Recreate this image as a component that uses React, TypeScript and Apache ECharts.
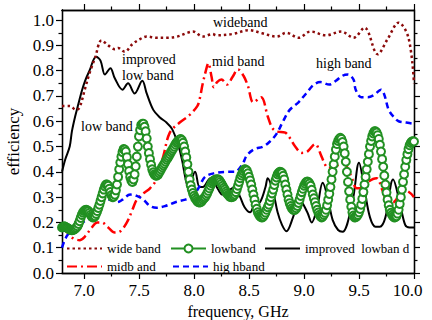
import React, { useEffect, useRef } from 'react';
import * as echarts from 'echarts';

// Frequency axis (GHz) and efficiency axis ranges
const FREQ_MIN = 6.8;
const FREQ_MAX = 10.0;
const EFF_MIN = 0;
const EFF_MAX = 1.04;

const freqMajorTicks = [7.0, 7.5, 8.0, 8.5, 9.0, 9.5, 10.0];
const freqMinorTicks = [7.25, 7.75, 8.25, 8.75, 9.25, 9.75];
const effMajorTicks = [0, 0.1, 0.2, 0.3, 0.4, 0.5, 0.6, 0.7, 0.8, 0.9, 1.0];
const effMinorTicks = [0.05, 0.15, 0.25, 0.35, 0.45, 0.55, 0.65, 0.75, 0.85, 0.95];

// wide band antenna: [frequency GHz, efficiency]
const wideBand = [
  [6.8, 0.66], [6.87, 0.66], [6.93, 0.645], [6.96, 0.655], [7.01, 0.73], [7.05, 0.79],
  [7.1, 0.85], [7.16, 0.92], [7.22, 0.9], [7.28, 0.885], [7.31, 0.89], [7.37, 0.875],
  [7.44, 0.905], [7.51, 0.925], [7.57, 0.935], [7.66, 0.93], [7.75, 0.93], [7.85, 0.935],
  [7.94, 0.95], [7.99, 0.955], [8.08, 0.935], [8.17, 0.945], [8.2, 0.94], [8.35, 0.945],
  [8.5, 0.96], [8.62, 0.948], [8.75, 0.935], [8.84, 0.95], [8.95, 0.93], [9.06, 0.955],
  [9.2, 0.94], [9.34, 0.955], [9.45, 0.93], [9.55, 0.97], [9.67, 0.865], [9.76, 0.925],
  [9.86, 0.99], [9.95, 0.93], [10.0, 0.75],
];

// low band antenna, sampled every 10 MHz from 6.80 GHz (one row = 0.1 GHz)
const LOWBAND_START = 6.8;
const LOWBAND_STEP = 0.01;
const lowbandEff = [
  0.18, 0.183, 0.185, 0.183, 0.18, 0.178, 0.175, 0.172, 0.17, 0.169, // 6.8
  0.17, 0.172, 0.175, 0.179, 0.185, 0.194, 0.205, 0.218, 0.23, 0.239, // 6.9
  0.245, 0.249, 0.25, 0.248, 0.245, 0.238, 0.23, 0.224, 0.22, 0.221, // 7.0
  0.225, 0.234, 0.245, 0.257, 0.27, 0.285, 0.3, 0.315, 0.33, 0.342, // 7.1
  0.35, 0.35, 0.345, 0.333, 0.32, 0.308, 0.3, 0.302, 0.31, 0.327, // 7.2
  0.35, 0.38, 0.41, 0.437, 0.46, 0.478, 0.49, 0.488, 0.48, 0.458, // 7.3
  0.43, 0.403, 0.38, 0.366, 0.36, 0.37, 0.39, 0.422, 0.46, 0.5, // 7.4
  0.54, 0.565, 0.585, 0.59, 0.59, 0.578, 0.56, 0.532, 0.5, 0.474, // 7.5
  0.45, 0.428, 0.41, 0.398, 0.39, 0.386, 0.385, 0.388, 0.395, 0.402, // 7.6
  0.41, 0.418, 0.425, 0.432, 0.44, 0.448, 0.455, 0.462, 0.47, 0.478, // 7.7
  0.485, 0.492, 0.5, 0.508, 0.515, 0.52, 0.525, 0.528, 0.53, 0.525, // 7.8
  0.515, 0.5, 0.48, 0.457, 0.43, 0.4, 0.37, 0.347, 0.33, 0.316, // 7.9
  0.305, 0.297, 0.29, 0.284, 0.28, 0.279, 0.28, 0.284, 0.29, 0.295, // 8.0
  0.3, 0.307, 0.315, 0.325, 0.335, 0.345, 0.355, 0.361, 0.365, 0.368, // 8.1
  0.37, 0.371, 0.37, 0.366, 0.36, 0.353, 0.345, 0.337, 0.33, 0.322, // 8.2
  0.315, 0.309, 0.305, 0.301, 0.3, 0.301, 0.305, 0.311, 0.32, 0.332, // 8.3
  0.345, 0.36, 0.375, 0.386, 0.395, 0.403, 0.41, 0.409, 0.405, 0.394, // 8.4
  0.38, 0.366, 0.35, 0.33, 0.31, 0.29, 0.27, 0.254, 0.24, 0.231, // 8.5
  0.225, 0.221, 0.22, 0.223, 0.23, 0.239, 0.25, 0.26, 0.27, 0.285, // 8.6
  0.3, 0.315, 0.33, 0.348, 0.365, 0.378, 0.39, 0.396, 0.4, 0.399, // 8.7
  0.395, 0.384, 0.37, 0.35, 0.33, 0.31, 0.29, 0.276, 0.265, 0.256, // 8.8
  0.25, 0.249, 0.25, 0.256, 0.265, 0.277, 0.29, 0.305, 0.32, 0.333, // 8.9
  0.345, 0.353, 0.36, 0.362, 0.36, 0.354, 0.345, 0.329, 0.31, 0.295, // 9.0
  0.28, 0.265, 0.25, 0.239, 0.23, 0.224, 0.22, 0.223, 0.23, 0.238, // 9.1
  0.25, 0.268, 0.29, 0.313, 0.34, 0.37, 0.4, 0.43, 0.46, 0.488, // 9.2
  0.51, 0.522, 0.53, 0.535, 0.53, 0.518, 0.5, 0.473, 0.44, 0.4, // 9.3
  0.36, 0.323, 0.29, 0.262, 0.24, 0.227, 0.22, 0.221, 0.225, 0.23, // 9.4
  0.24, 0.253, 0.27, 0.293, 0.32, 0.35, 0.38, 0.41, 0.44, 0.47, // 9.5
  0.5, 0.522, 0.54, 0.552, 0.56, 0.56, 0.555, 0.545, 0.53, 0.507, // 9.6
  0.48, 0.45, 0.42, 0.385, 0.35, 0.318, 0.29, 0.268, 0.25, 0.238, // 9.7
  0.23, 0.224, 0.22, 0.221, 0.225, 0.235, 0.25, 0.273, 0.3, 0.33, // 9.8
  0.36, 0.39, 0.42, 0.447, 0.47, 0.49, 0.505, 0.514, 0.52, 0.521, // 9.9
  0.52, // 10.0
];

// improved low band antenna
const improvedLowband = [
  [6.8, 0.4], [6.83, 0.45], [6.87, 0.5], [6.89, 0.56], [6.92, 0.62], [6.95, 0.67],
  [6.98, 0.72], [7.01, 0.76], [7.05, 0.8], [7.11, 0.855], [7.15, 0.84], [7.19, 0.785],
  [7.24, 0.81], [7.28, 0.77], [7.35, 0.725], [7.4, 0.75], [7.46, 0.71], [7.53, 0.76],
  [7.57, 0.71], [7.63, 0.645], [7.69, 0.615], [7.75, 0.595], [7.8, 0.57], [7.85, 0.515],
  [7.89, 0.45], [7.92, 0.38], [7.95, 0.335], [8.01, 0.4], [8.05, 0.34], [8.08, 0.34],
  [8.15, 0.375], [8.17, 0.37], [8.22, 0.33], [8.26, 0.31], [8.33, 0.33], [8.37, 0.34],
  [8.42, 0.3], [8.46, 0.26], [8.51, 0.24], [8.55, 0.27], [8.6, 0.28], [8.65, 0.34],
  [8.67, 0.375], [8.72, 0.32], [8.76, 0.24], [8.8, 0.19], [8.84, 0.165], [8.9, 0.22],
  [8.96, 0.29], [9.03, 0.24], [9.07, 0.2], [9.12, 0.26], [9.17, 0.357], [9.22, 0.29],
  [9.26, 0.21], [9.31, 0.17], [9.35, 0.163], [9.44, 0.28], [9.5, 0.436], [9.55, 0.33],
  [9.6, 0.22], [9.65, 0.183], [9.69, 0.183], [9.74, 0.22], [9.81, 0.37], [9.87, 0.28],
  [9.92, 0.19], [9.96, 0.18], [10.0, 0.18],
];

// mid band antenna
const midBand = [
  [6.8, 0.18], [6.85, 0.16], [6.89, 0.14], [6.96, 0.13], [7.01, 0.145], [7.07, 0.18],
  [7.12, 0.2], [7.16, 0.2], [7.22, 0.18], [7.28, 0.16], [7.33, 0.165], [7.39, 0.2],
  [7.44, 0.25], [7.48, 0.29], [7.54, 0.315], [7.6, 0.335], [7.66, 0.37], [7.69, 0.42],
  [7.72, 0.46], [7.78, 0.555], [7.87, 0.595], [7.96, 0.625], [8.03, 0.66], [8.05, 0.685],
  [8.08, 0.75], [8.12, 0.82], [8.13, 0.83], [8.16, 0.775], [8.18, 0.735], [8.21, 0.755],
  [8.25, 0.765], [8.3, 0.745], [8.35, 0.775], [8.4, 0.805], [8.45, 0.78], [8.49, 0.74],
  [8.54, 0.675], [8.61, 0.695], [8.67, 0.62], [8.71, 0.575], [8.75, 0.56], [8.83, 0.555],
  [8.87, 0.535], [8.92, 0.5], [8.98, 0.475], [9.03, 0.48], [9.1, 0.51], [9.16, 0.46],
  [9.19, 0.43], [9.22, 0.415], [9.28, 0.42], [9.35, 0.435], [9.39, 0.42], [9.44, 0.37],
  [9.48, 0.335], [9.54, 0.335], [9.58, 0.36], [9.66, 0.375], [9.71, 0.33], [9.75, 0.29],
  [9.81, 0.28], [9.87, 0.31], [9.93, 0.325], [10.0, 0.3],
];

// high band antenna
const highBand = [
  [6.8, 0.1], [6.85, 0.15], [6.92, 0.17], [6.99, 0.2], [7.07, 0.22], [7.13, 0.26],
  [7.19, 0.29], [7.24, 0.29], [7.3, 0.28], [7.35, 0.29], [7.42, 0.31], [7.48, 0.305],
  [7.54, 0.29], [7.6, 0.265], [7.66, 0.258], [7.74, 0.265], [7.83, 0.28], [7.92, 0.29],
  [7.98, 0.3], [8.04, 0.335], [8.1, 0.38], [8.19, 0.395], [8.3, 0.4], [8.37, 0.4],
  [8.44, 0.43], [8.48, 0.465], [8.55, 0.49], [8.63, 0.5], [8.69, 0.52], [8.75, 0.55],
  [8.81, 0.6], [8.87, 0.645], [8.95, 0.675], [9.02, 0.71], [9.09, 0.745], [9.15, 0.755],
  [9.23, 0.745], [9.29, 0.76], [9.35, 0.78], [9.4, 0.785], [9.45, 0.765], [9.47, 0.725],
  [9.52, 0.695], [9.58, 0.695], [9.64, 0.705], [9.7, 0.725], [9.73, 0.705], [9.77, 0.645],
  [9.82, 0.615], [9.86, 0.6], [9.93, 0.595], [10.0, 0.59],
];

const SERIF = '"Liberation Serif", "Times New Roman", serif';
const DARK_RED = '#8b0a0a';
const GREEN = '#229022';

// in-plot annotations (pixel layout)
const notes = [
  { text: 'wideband', x: 213, y: 22 },
  { text: 'improved', x: 122, y: 59 },
  { text: 'low band', x: 122, y: 75 },
  { text: 'low band', x: 81, y: 126 },
  { text: 'mid band', x: 212, y: 61 },
  { text: 'high band', x: 316, y: 63 },
];

// legend entries and their placement inside the plot
const legendEntries = [
  { name: 'wide band', left: 66, top: 242, marker: false },
  { name: 'lowband', left: 170, top: 242, marker: true },
  { name: 'improved  lowban d', left: 264, top: 242, marker: false },
  { name: 'midb and', left: 66, top: 260, marker: false },
  { name: 'hig hband', left: 172, top: 260, marker: false },
];

function tickAxis(kind: 'x' | 'y', position: string, ticks: number[], len: number) {
  const isX = kind === 'x';
  return {
    type: 'value',
    position,
    min: isX ? FREQ_MIN : EFF_MIN,
    max: isX ? FREQ_MAX : EFF_MAX,
    splitLine: { show: false },
    axisLine: { show: true, onZero: false, lineStyle: { color: '#000', width: 1.3 } },
    axisLabel: { show: false },
    axisTick: {
      show: true,
      inside: false,
      length: len,
      customValues: ticks,
      lineStyle: { color: '#000', width: 1.2 },
    },
  };
}

export default function App() {
  const ref = useRef<HTMLDivElement>(null);

  useEffect(() => {
    if (!ref.current) return;
    const chart = echarts.init(ref.current, undefined, { renderer: 'svg' });

    const bottomMain: any = tickAxis('x', 'bottom', freqMajorTicks, 6);
    bottomMain.name = 'frequency, GHz';
    bottomMain.nameLocation = 'middle';
    bottomMain.nameGap = 28;
    bottomMain.nameTextStyle = { fontFamily: SERIF, fontSize: 16, color: '#000' };
    bottomMain.axisLabel = {
      show: true,
      customValues: freqMajorTicks,
      margin: 9,
      fontFamily: SERIF,
      fontSize: 17,
      color: '#000',
      formatter: (v: number) => (v >= FREQ_MAX ? '{edge|' + v.toFixed(1) + '}' : v.toFixed(1)),
      rich: {
        edge: { fontFamily: SERIF, fontSize: 17, color: '#000', padding: [0, 13, 0, 0] },
      },
    };

    const leftMain: any = tickAxis('y', 'left', effMajorTicks, 6);
    leftMain.name = 'efficiency';
    leftMain.nameLocation = 'middle';
    leftMain.nameGap = 37;
    leftMain.nameTextStyle = { fontFamily: SERIF, fontSize: 17, color: '#000' };
    leftMain.axisLabel = {
      show: true,
      customValues: effMajorTicks,
      margin: 8,
      fontFamily: SERIF,
      fontSize: 17,
      color: '#000',
      formatter: (v: number) => v.toFixed(1),
    };

    const lowband = lowbandEff.map((v, i) => [+(LOWBAND_START + i * LOWBAND_STEP).toFixed(2), v]);

    chart.setOption({
      animation: false,
      backgroundColor: '#fff',
      grid: { left: 62, right: 18, top: 10, bottom: 47, containLabel: false, outerBoundsMode: 'none' },
      xAxis: [
        bottomMain,
        tickAxis('x', 'bottom', freqMinorTicks, 3.5),
        tickAxis('x', 'top', freqMajorTicks, 6),
        tickAxis('x', 'top', freqMinorTicks, 3.5),
      ],
      yAxis: [
        leftMain,
        tickAxis('y', 'left', effMinorTicks, 3.5),
        tickAxis('y', 'right', effMajorTicks, 6),
        tickAxis('y', 'right', effMinorTicks, 3.5),
      ],
      legend: legendEntries.map((e) => ({
        left: e.left,
        top: e.top,
        padding: 0,
        itemWidth: 35,
        itemHeight: 10,
        selectedMode: false,
        textStyle: { fontFamily: SERIF, fontSize: 13, color: '#000' },
        data: [e.marker ? { name: e.name } : { name: e.name, itemStyle: { opacity: 0 } }],
      })),
      graphic: notes.map((n) => ({
        type: 'text',
        x: n.x,
        y: n.y,
        silent: true,
        style: {
          text: n.text,
          fill: '#000',
          font: '14px ' + SERIF,
          textAlign: 'left',
          textVerticalAlign: 'middle',
        },
      })),
      series: [
        {
          name: 'lowband',
          type: 'line',
          data: lowband,
          smooth: true,
          symbol: 'emptyCircle',
          symbolSize: 8,
          showSymbol: true,
          showAllSymbol: true,
          lineStyle: { color: GREEN, width: 1.5 },
          itemStyle: { color: GREEN, borderColor: GREEN, borderWidth: 1.1 },
        },
        {
          name: 'improved  lowban d',
          type: 'line',
          data: improvedLowband,
          smooth: 0.35,
          symbol: 'none',
          lineStyle: { color: '#000', width: 2 },
          itemStyle: { color: '#000' },
        },
        {
          name: 'midb and',
          type: 'line',
          data: midBand,
          smooth: 0.35,
          symbol: 'none',
          lineStyle: { color: '#ff0000', width: 2.5, type: [10, 4, 2, 4] },
          itemStyle: { color: '#ff0000' },
        },
        {
          name: 'hig hband',
          type: 'line',
          data: highBand,
          smooth: 0.35,
          symbol: 'none',
          lineStyle: { color: '#0000ff', width: 2.5, type: [6, 4] },
          itemStyle: { color: '#0000ff' },
        },
        {
          name: 'wide band',
          type: 'line',
          data: wideBand,
          smooth: 0.35,
          symbol: 'none',
          lineStyle: { color: DARK_RED, width: 2.5, type: [2.5, 3] },
          itemStyle: { color: DARK_RED },
        },
      ],
    });

    return () => chart.dispose();
  }, []);

  return (
    <div
      ref={ref}
      style={{ position: 'fixed', left: 0, top: 0, width: 432, height: 320, background: '#fff' }}
    />
  );
}
